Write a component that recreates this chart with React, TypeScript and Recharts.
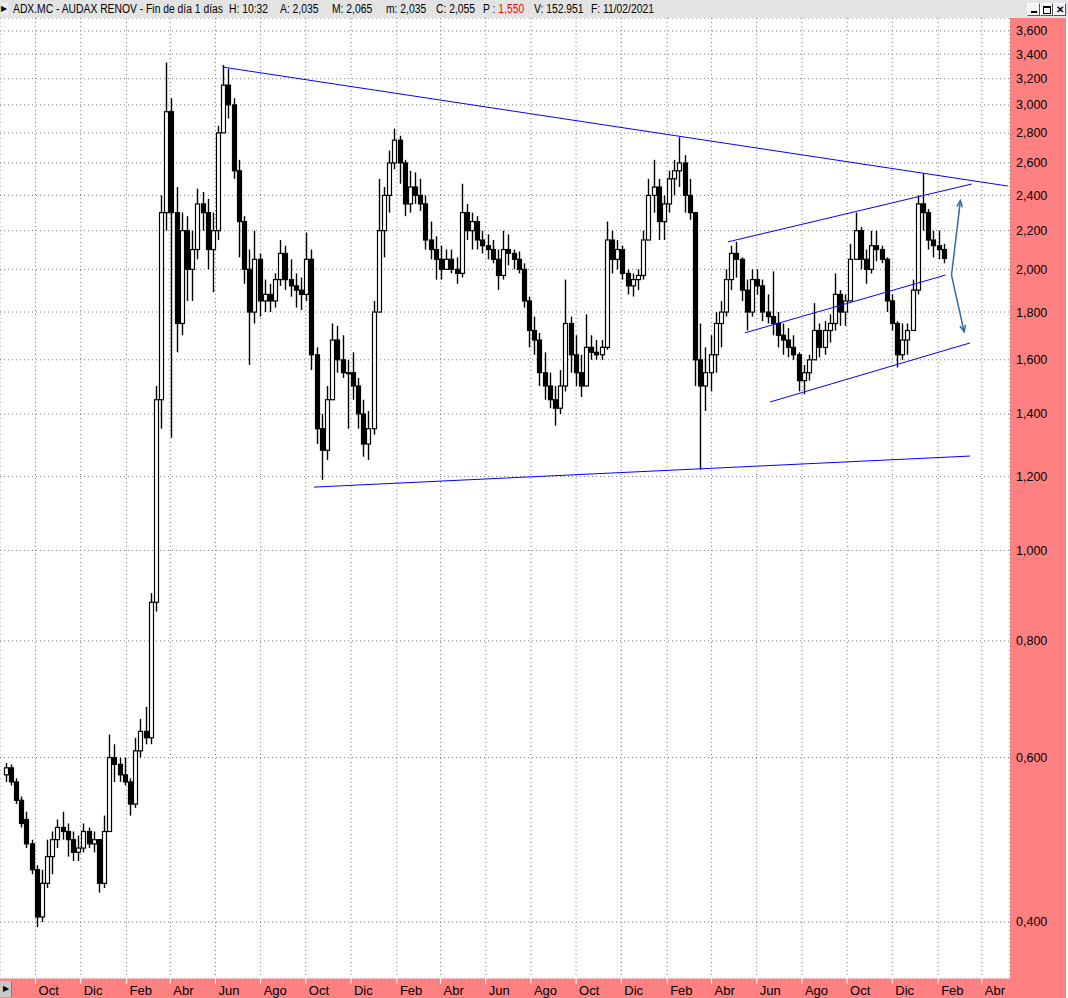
import React from 'react';
import { ComposedChart, Bar, XAxis, YAxis, CartesianGrid, ReferenceLine } from 'recharts';

// ---------- data ----------
const WEEK = 7 * 86400000;
const FIRST_WEEK = Date.UTC(2017, 7, 21); // first weekly candle (Monday)
const X_DOMAIN: [number, number] = [Date.UTC(2017, 7, 14), Date.UTC(2021, 4, 9)];
const Y_DOMAIN: [number, number] = [0.3484, 3.717];

const monthTickDates = [
  '2017-10-01', '2017-12-01', '2018-02-01', '2018-04-01', '2018-06-01', '2018-08-01',
  '2018-10-01', '2018-12-01', '2019-02-01', '2019-04-01', '2019-06-01', '2019-08-01',
  '2019-10-01', '2019-12-01', '2020-02-01', '2020-04-01', '2020-06-01', '2020-08-01',
  '2020-10-01', '2020-12-01', '2021-02-01', '2021-04-01',
];
const monthTickLabels = [
  'Oct', 'Dic', 'Feb', 'Abr', 'Jun', 'Ago',
  'Oct', 'Dic', 'Feb', 'Abr', 'Jun', 'Ago',
  'Oct', 'Dic', 'Feb', 'Abr', 'Jun', 'Ago',
  'Oct', 'Dic', 'Feb', 'Abr',
];
const priceTicks = [0.4, 0.6, 0.8, 1.0, 1.2, 1.4, 1.6, 1.8, 2.0, 2.2, 2.4, 2.6, 2.8, 3.0, 3.2, 3.4, 3.6];

// weekly candles: [open, high, low, close]
const weeklyOHLC: [number, number, number, number][] = [
  [0.575, 0.592, 0.565, 0.585], [0.585, 0.59, 0.56, 0.565], [0.565, 0.57, 0.535, 0.54], [0.54, 0.545, 0.505, 0.51],
  [0.515, 0.525, 0.48, 0.485], [0.485, 0.49, 0.45, 0.455], [0.455, 0.46, 0.395, 0.405], [0.405, 0.455, 0.4, 0.44],
  [0.44, 0.49, 0.435, 0.47], [0.47, 0.5, 0.45, 0.49], [0.49, 0.515, 0.48, 0.505], [0.505, 0.525, 0.49, 0.5],
  [0.5, 0.51, 0.47, 0.49], [0.49, 0.5, 0.465, 0.475], [0.475, 0.495, 0.465, 0.48], [0.48, 0.51, 0.475, 0.5],
  [0.5, 0.505, 0.48, 0.485], [0.485, 0.5, 0.475, 0.49], [0.49, 0.49, 0.43, 0.44], [0.44, 0.52, 0.435, 0.5],
  [0.5, 0.635, 0.5, 0.6], [0.6, 0.62, 0.565, 0.59], [0.59, 0.6, 0.565, 0.575], [0.575, 0.6, 0.56, 0.565],
  [0.565, 0.57, 0.52, 0.535], [0.535, 0.63, 0.53, 0.61], [0.61, 0.66, 0.6, 0.64], [0.64, 0.68, 0.62, 0.63],
  [0.63, 0.9, 0.62, 0.88], [0.88, 1.5, 0.86, 1.45], [1.45, 2.4, 1.35, 2.3], [2.3, 3.33, 2.2, 2.95],
  [2.95, 3.05, 1.32, 2.3], [2.3, 2.45, 1.63, 1.75], [1.75, 2.3, 1.7, 2.2], [2.2, 2.28, 1.85, 2.0],
  [2.0, 2.2, 1.85, 2.1], [2.1, 2.44, 2.05, 2.35], [2.35, 2.42, 2.2, 2.3], [2.3, 2.38, 2.0, 2.1],
  [2.1, 2.3, 1.89, 2.2], [2.2, 2.85, 2.15, 2.8], [2.8, 3.31, 2.8, 3.15], [3.15, 3.28, 2.9, 3.0],
  [3.0, 3.05, 2.5, 2.55], [2.55, 2.62, 2.06, 2.25], [2.25, 2.28, 1.93, 2.0], [2.0, 2.1, 1.58, 1.8],
  [1.8, 2.2, 1.75, 2.05], [2.05, 2.08, 1.78, 1.85], [1.85, 1.95, 1.8, 1.88], [1.88, 1.93, 1.8, 1.85],
  [1.85, 1.98, 1.82, 1.95], [1.95, 2.15, 1.92, 2.08], [2.08, 2.12, 1.9, 1.95], [1.95, 2.05, 1.87, 1.92],
  [1.92, 1.98, 1.82, 1.9], [1.9, 1.96, 1.81, 1.88], [1.88, 2.19, 1.85, 2.05], [2.05, 2.1, 1.56, 1.62],
  [1.62, 1.65, 1.3, 1.35], [1.35, 1.4, 1.19, 1.28], [1.28, 1.5, 1.25, 1.45], [1.45, 1.75, 1.45, 1.68],
  [1.68, 1.74, 1.55, 1.6], [1.6, 1.7, 1.53, 1.55], [1.55, 1.6, 1.35, 1.55], [1.55, 1.63, 1.45, 1.5],
  [1.5, 1.53, 1.35, 1.4], [1.4, 1.45, 1.26, 1.3], [1.3, 1.41, 1.25, 1.35], [1.35, 1.85, 1.33, 1.8],
  [1.8, 2.5, 1.8, 2.2], [2.2, 2.45, 2.06, 2.4], [2.4, 2.68, 2.3, 2.6], [2.6, 2.83, 2.56, 2.75],
  [2.75, 2.78, 2.47, 2.6], [2.6, 2.62, 2.28, 2.35], [2.35, 2.55, 2.3, 2.45], [2.45, 2.54, 2.35, 2.4],
  [2.4, 2.5, 2.31, 2.35], [2.35, 2.4, 2.1, 2.15], [2.15, 2.25, 2.05, 2.1], [2.1, 2.17, 1.95, 2.05],
  [2.05, 2.12, 1.95, 2.0], [2.0, 2.1, 2.0, 2.05], [2.05, 2.1, 1.98, 2.0], [2.0, 2.06, 1.93, 1.98],
  [1.98, 2.47, 1.96, 2.3], [2.3, 2.35, 2.15, 2.2], [2.2, 2.3, 2.1, 2.25], [2.25, 2.28, 2.1, 2.15],
  [2.15, 2.2, 2.08, 2.12], [2.12, 2.18, 2.05, 2.1], [2.1, 2.15, 2.03, 2.05], [2.05, 2.1, 1.9, 1.97],
  [1.97, 2.2, 1.95, 2.1], [2.1, 2.18, 2.02, 2.08], [2.08, 2.1, 2.0, 2.05], [2.05, 2.09, 1.98, 2.0],
  [2.0, 2.03, 1.82, 1.85], [1.85, 1.87, 1.65, 1.72], [1.72, 1.78, 1.62, 1.68], [1.68, 1.71, 1.5, 1.55],
  [1.55, 1.63, 1.45, 1.5], [1.5, 1.55, 1.42, 1.45], [1.45, 1.5, 1.36, 1.42], [1.42, 1.56, 1.4, 1.5],
  [1.5, 1.95, 1.48, 1.75], [1.75, 1.78, 1.55, 1.62], [1.62, 1.7, 1.5, 1.55], [1.55, 1.62, 1.46, 1.5],
  [1.5, 1.79, 1.5, 1.65], [1.65, 1.7, 1.6, 1.63], [1.63, 1.68, 1.6, 1.62], [1.62, 1.68, 1.6, 1.65],
  [1.65, 2.25, 1.64, 2.15], [2.15, 2.2, 1.98, 2.05], [2.05, 2.15, 2.0, 2.1], [2.1, 2.12, 1.95, 1.98],
  [1.98, 2.0, 1.88, 1.92], [1.92, 1.98, 1.87, 1.95], [1.95, 2.0, 1.9, 1.97], [1.97, 2.2, 1.95, 2.15],
  [2.15, 2.5, 2.15, 2.4], [2.4, 2.62, 2.3, 2.45], [2.45, 2.5, 2.15, 2.25], [2.25, 2.4, 2.15, 2.35],
  [2.35, 2.55, 2.3, 2.5], [2.5, 2.62, 2.4, 2.55], [2.55, 2.77, 2.45, 2.6], [2.6, 2.65, 2.3, 2.4],
  [2.4, 2.5, 2.26, 2.3], [2.3, 2.3, 1.5, 1.6], [1.6, 1.75, 1.22, 1.5], [1.5, 1.65, 1.41, 1.55],
  [1.55, 1.7, 1.48, 1.62], [1.62, 1.8, 1.55, 1.75], [1.75, 1.85, 1.65, 1.8], [1.8, 2.0, 1.78, 1.95],
  [1.95, 2.12, 1.9, 2.08], [2.08, 2.14, 1.96, 2.05], [2.05, 2.06, 1.85, 1.9], [1.9, 1.95, 1.72, 1.8],
  [1.8, 2.0, 1.78, 1.95], [1.95, 2.0, 1.88, 1.92], [1.92, 1.95, 1.76, 1.8], [1.8, 1.88, 1.75, 1.78],
  [1.78, 1.99, 1.7, 1.75], [1.75, 1.8, 1.65, 1.7], [1.7, 1.75, 1.62, 1.68], [1.68, 1.73, 1.61, 1.65],
  [1.65, 1.7, 1.6, 1.62], [1.62, 1.63, 1.48, 1.52], [1.52, 1.58, 1.47, 1.55], [1.55, 1.62, 1.52, 1.6],
  [1.6, 1.84, 1.6, 1.72], [1.72, 1.75, 1.61, 1.65], [1.65, 1.76, 1.62, 1.72], [1.72, 1.79, 1.67, 1.75],
  [1.75, 1.98, 1.72, 1.88], [1.88, 1.9, 1.74, 1.8], [1.8, 1.88, 1.74, 1.85], [1.85, 2.13, 1.85, 2.05],
  [2.05, 2.3, 2.05, 2.2], [2.2, 2.22, 2.0, 2.05], [2.05, 2.1, 1.93, 2.0], [2.0, 2.2, 1.98, 2.12],
  [2.12, 2.2, 2.04, 2.1], [2.1, 2.12, 2.03, 2.05], [2.05, 2.06, 1.8, 1.85], [1.85, 1.88, 1.72, 1.75],
  [1.75, 1.76, 1.57, 1.62], [1.62, 1.75, 1.6, 1.68], [1.68, 1.75, 1.62, 1.72], [1.72, 1.95, 1.72, 1.9],
  [1.9, 2.4, 1.88, 2.35], [2.35, 2.53, 2.2, 2.3], [2.3, 2.32, 2.1, 2.15], [2.15, 2.2, 2.06, 2.12],
  [2.12, 2.2, 2.05, 2.1], [2.1, 2.13, 2.03, 2.055],
];

// trend lines drawn on the chart: [date, price] -> [date, price]
const trendLines: [string, number, string, number][] = [
  ['2018-06-10', 3.294, '2021-05-06', 2.456],
  ['2018-10-12', 1.169, '2021-03-16', 1.262],
  ['2020-04-23', 2.14, '2021-03-18', 2.468],
  ['2020-05-16', 1.71, '2021-02-11', 1.972],
  ['2020-06-19', 1.442, '2021-03-16', 1.668],
];
const arrows: [string, number, string, number][] = [
  ['2021-02-19', 1.972, '2021-03-03', 2.369],
  ['2021-02-19', 1.972, '2021-03-08', 1.715],
];

const rows = weeklyOHLC.map(([o, h, l, c], i) => ({
  t: FIRST_WEEK + i * WEEK,
  range: [l, h],
  o, h, l, c,
}));
const xTicks = monthTickDates.map((d) => Date.parse(d));

// ---------- drawing helpers ----------
const FONT = '"Liberation Sans", Arial, sans-serif';

const Candle = (props: any) => {
  const { x, y, width, height, payload } = props;
  if (!payload || height == null) return null;
  const { o, h, l, c } = payload;
  const cx = Math.round(x + width / 2) + 0.5;
  const lh = Math.log(h);
  const ll = Math.log(l);
  const py = (v: number) => (lh === ll ? y : y + ((lh - Math.log(v)) / (lh - ll)) * height);
  const top = py(Math.max(o, c));
  const bot = py(Math.min(o, c));
  const up = c >= o;
  return (
    <g>
      <line x1={cx} x2={cx} y1={y} y2={y + height} stroke="#000" strokeWidth={1.4} />
      <rect
        x={cx - 2}
        y={top}
        width={4}
        height={Math.max(bot - top, 1)}
        fill={up ? '#fff' : '#000'}
        stroke="#000"
        strokeWidth={1.2}
      />
    </g>
  );
};

const ArrowShape = (props: any) => {
  const { x1, y1, x2, y2 } = props;
  const ang = Math.atan2(y2 - y1, x2 - x1);
  const len = 7;
  const sp = 0.42;
  const ax = x2 - len * Math.cos(ang - sp);
  const ay = y2 - len * Math.sin(ang - sp);
  const bx = x2 - len * Math.cos(ang + sp);
  const by = y2 - len * Math.sin(ang + sp);
  return (
    <g>
      <line x1={x1} y1={y1} x2={x2} y2={y2} stroke="#2f6aa3" strokeWidth={1.5} />
      <polyline points={`${ax},${ay} ${x2},${y2} ${bx},${by}`} fill="none" stroke="#2f6aa3" strokeWidth={1.5} />
    </g>
  );
};

const YTick = (props: any) => {
  const { x, y, payload } = props;
  return (
    <text x={x} y={y} dy={4.5} textAnchor="start" fontFamily={FONT} fontSize={12.5} fill="#000">
      {Number(payload.value).toFixed(3).replace('.', ',')}
    </text>
  );
};

const XTick = (props: any) => {
  const { x, y, payload } = props;
  const idx = xTicks.indexOf(payload.value);
  return (
    <text x={x + 3} y={y + 11} textAnchor="start" fontFamily={FONT} fontSize={13} fill="#000">
      {idx >= 0 ? monthTickLabels[idx] : ''}
    </text>
  );
};

const headerFields: { left: number; text: string; red?: string }[] = [
  { left: 13, text: 'ADX.MC - AUDAX RENOV - Fin de día 1 días' },
  { left: 229, text: 'H: 10:32' },
  { left: 280, text: 'A: 2,035' },
  { left: 332, text: 'M: 2,065' },
  { left: 386, text: 'm: 2,035' },
  { left: 436, text: 'C: 2,055' },
  { left: 483, text: 'P : ', red: '1,550' },
  { left: 534, text: 'V: 152.951' },
  { left: 591, text: 'F: 11/02/2021' },
];

const WinBtn = ({ left, glyph }: { left: number; glyph: React.ReactNode }) => (
  <div
    style={{
      position: 'absolute', left, top: 3, width: 11, height: 11,
      background: '#f4f4f4', borderRight: '1px solid #555', borderBottom: '1px solid #555',
      borderTop: '1px solid #fff', borderLeft: '1px solid #fff',
      display: 'flex', alignItems: 'center', justifyContent: 'center',
      fontFamily: FONT, fontSize: 10, fontWeight: 700, color: '#000', lineHeight: '11px',
    }}
  >
    {glyph}
  </div>
);

export default function App() {
  return (
    <div style={{ position: 'relative', width: 1068, height: 998, background: '#fff', overflow: 'hidden' }}>
      <style>{'body{margin:0}'}</style>
      {/* title bar */}
      <div style={{ position: 'absolute', left: 0, top: 0, width: 1068, height: 18, background: '#e3e3e3' }}>
        <div style={{ position: 'absolute', left: 1, top: 3, width: 7, height: 11, background: '#f0f0f0', fontSize: 8, lineHeight: '11px', color: '#000', fontFamily: FONT }}>
          ▶
        </div>
        {headerFields.map((f, i) => (
          <span
            key={i}
            style={{
              position: 'absolute', left: f.left, top: 2, fontFamily: FONT, fontSize: 12,
              color: '#000', whiteSpace: 'pre', transform: 'scaleX(0.86)', transformOrigin: 'left top', lineHeight: '14px',
            }}
          >
            {f.text}
            {f.red ? <span style={{ color: '#ff0000' }}>{f.red}</span> : null}
          </span>
        ))}
        <WinBtn left={1027} glyph={<span style={{ display: 'block', width: 6, height: 2, background: '#000', marginTop: 5 }} />} />
        <WinBtn left={1040} glyph={<span style={{ display: 'block', width: 6, height: 5, border: '1px solid #000', borderTopWidth: 2 }} />} />
        <WinBtn left={1053} glyph={'✕'} />
      </div>

      {/* chart */}
      <div style={{ position: 'absolute', left: 0, top: 18, width: 1066, height: 980, background: '#ff8080' }}>
        <ComposedChart width={1066} height={980} data={rows} margin={{ top: 0, right: 0, bottom: 0, left: 0 }}>
          <CartesianGrid stroke="#7a7a7a" strokeDasharray="1 3" fill="#ffffff" />
          <XAxis
            dataKey="t"
            type="number"
            scale="linear"
            domain={X_DOMAIN}
            allowDataOverflow
            ticks={xTicks}
            height={20}
            axisLine={{ stroke: '#ffffff' }}
            tickLine={{ stroke: '#ffffff' }}
            tickSize={6}
            tickMargin={0}
            tick={<XTick />}
            interval={0}
          />
          <YAxis
            orientation="right"
            type="number"
            scale="log"
            domain={Y_DOMAIN}
            allowDataOverflow
            ticks={priceTicks}
            width={56}
            axisLine={false}
            tickLine={false}
            tickSize={0}
            tickMargin={6}
            tick={<YTick />}
            interval={0}
          />
          <Bar dataKey="range" barSize={4} shape={<Candle />} isAnimationActive={false} />
          {trendLines.map(([d1, p1, d2, p2], i) => (
            <ReferenceLine
              key={'tl' + i}
              segment={[{ x: Date.parse(d1), y: p1 }, { x: Date.parse(d2), y: p2 }]}
              stroke="#0000ff"
              strokeWidth={1}
              ifOverflow="visible"
            />
          ))}
          {arrows.map(([d1, p1, d2, p2], i) => (
            <ReferenceLine
              key={'ar' + i}
              segment={[{ x: Date.parse(d1), y: p1 }, { x: Date.parse(d2), y: p2 }]}
              stroke="#2f6aa3"
              ifOverflow="visible"
              shape={ArrowShape}
            />
          ))}
        </ComposedChart>
      </div>

      {/* bottom-left scroll button */}
      <div style={{ position: 'absolute', left: 0, top: 981, width: 11, height: 16, background: '#c8c8c8', borderRight: '1px solid #777', fontSize: 8, lineHeight: '16px', fontFamily: FONT, color: '#000', textAlign: 'center' }}>
        ▶
      </div>
    </div>
  );
}
